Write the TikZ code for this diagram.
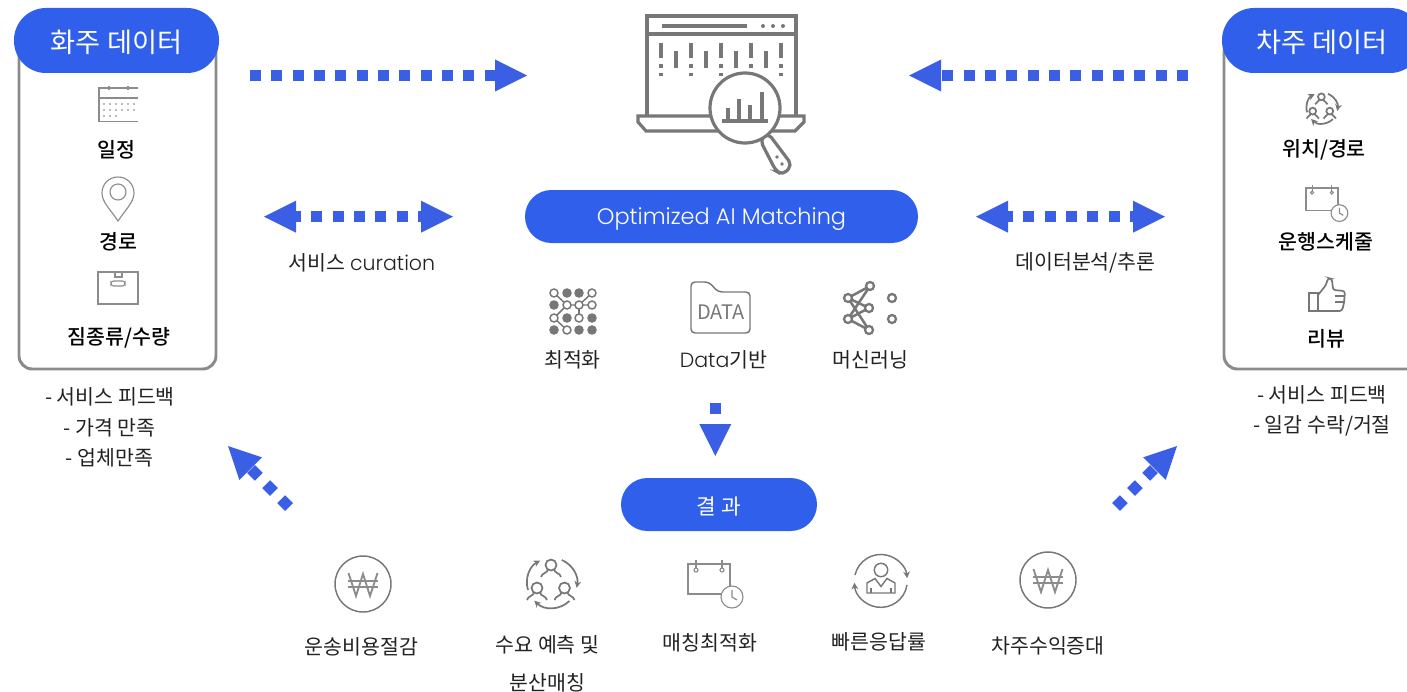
\documentclass[tikz,border=0pt]{standalone}
\usepackage{fontspec}
\setmainfont{Noto Sans CJK KR}
\newfontfamily\latinfont{Poppins Light}
\newfontfamily\mediumfont{Noto Sans CJK KR Medium}
\usetikzlibrary{arrows.meta}
\definecolor{pillblue}{HTML}{2F5FEB}
\definecolor{flowblue}{HTML}{3A5FE5}
\definecolor{icongray}{HTML}{777777}
\definecolor{thingray}{HTML}{8C8C8C}
\definecolor{boxgray}{HTML}{8A8A8A}
\definecolor{labelink}{HTML}{222222}
\tikzset{
	pill/.style={fill=pillblue, text=white, rounded corners=#1, inner sep=0pt, text depth=0pt},
	titlelabel/.style={font=\fontsize{20.4}{24}\selectfont, text=white, text height=18pt},
	itemlabel/.style={font=\mediumfont\fontsize{15.4}{18}\selectfont, text=black},
	notelabel/.style={font=\fontsize{15.4}{18}\selectfont, text=labelink, inner sep=0pt},
	databox/.style={draw=boxgray, line width=2.2pt, rounded corners=10pt, inner sep=0pt},
	flowline/.style={draw=flowblue, line width=8.25pt, dash pattern=on 8.25pt off 7.75pt, -{Triangle[length=24pt,width=24pt,line width=0pt]}},
	flowboth/.style={draw=flowblue, line width=8.25pt, dash pattern=on 8.25pt off 7.75pt, dash phase=4.5pt, {Triangle[length=24pt,width=24pt,line width=0pt]}-{Triangle[length=24pt,width=24pt,line width=0pt]}},
	iconline/.style={draw=icongray, line width=1.1pt},
	thinline/.style={draw=thingray, line width=0.85pt},
	pics/wonicon/.style={code={
		\draw[iconline] (0,0) circle (28);
		\draw[thinline, line width=1.4pt] (-14.5,-11) -- (-7,12) -- (0,-10) -- (7,12) -- (14.5,-11);
		\draw[thinline] (-15,-3) -- (15,-3);
		\draw[thinline] (-15,3) -- (15,3);
	}},
	pics/clockcal/.style={code={
		\draw[thinline] (33,30) -- (0,30) -- (0,0) -- (42,0) -- (42,22);
		\draw[thinline] (8,-4) -- (8,4);
		\draw[thinline] (34,-4) -- (34,4);
		\draw[thinline] (8,6) circle (2);
		\draw[thinline] (34,6) circle (2);
		\draw[thinline] (44,33) circle (11);
		\draw[thinline] (44,26) -- (44,33) -- (49,36);
	}},
	pics/peoplering/.style={code={
		\foreach \hx/\hy in {-1/-18, -15/5, 12.5/5}{
			\draw[iconline, line width=1.3pt] (\hx,\hy) circle (5.5);
			\draw[iconline, line width=1.3pt] (\hx-10,\hy+12) .. controls (\hx-9,\hy+8) and (\hx-4,\hy+8) .. (\hx-3,\hy+5);
			\draw[iconline, line width=1.3pt] (\hx+10,\hy+12) .. controls (\hx+9,\hy+8) and (\hx+4,\hy+8) .. (\hx+3,\hy+5);
		}
		\draw[iconline, line width=1.3pt, -{Stealth[length=5pt,width=5pt]}] (-24,7) arc (163:242:25);
		\draw[iconline, line width=1.3pt, -{Stealth[length=5pt,width=5pt]}] (9.8,-23) arc (293:371:25);
		\draw[iconline, line width=1.3pt, -{Stealth[length=5pt,width=5pt]}] (17.4,18) arc (46:135:25);
	}},
}

\begin{document}
\begin{tikzpicture}[x=0.75pt, y=-0.75pt]
	\useasboundingbox (0,0) rectangle (1407,692);
	\clip (0,0) rectangle (1407,692);

	\node[databox, minimum width=147.75pt, minimum height=246.75pt] (shipperBox) at (117.5,204.5) {};
	\node[pill=24pt, minimum width=153.75pt, minimum height=48.75pt, titlelabel] (shipperTitle) at (116.5,40.5) {화주 데이터};
	\node[databox, minimum width=147.75pt, minimum height=246.75pt] (driverBox) at (1322.5,204.5) {};
	\node[pill=24pt, minimum width=150pt, minimum height=48.75pt, titlelabel] (driverTitle) at (1322,40.5) {차주 데이터};

	\node[pill=19.8pt, minimum width=294.75pt, minimum height=39.75pt, text height=11.8pt, font=\latinfont\fontsize{16.8}{20}\selectfont] (matchTitle) at (721.5,216.5) {Optimized AI Matching};
	\node[pill=19.8pt, minimum width=147pt, minimum height=39.75pt, text height=14.8pt, font=\fontsize{16}{18}\selectfont] (resultTitle) at (719,504.5) {결 과};

	% left column
	\draw[thinline] (138,88) -- (99,88) -- (99,121.5) -- (138,121.5);
	\draw[thinline] (99,98) -- (138,98);
	\draw[thinline] (109,86) -- (109,90);
	\draw[thinline] (128,86) -- (128,90);
	\foreach \dx in {104,110,...,134}{
		\fill[icongray] (\dx,104) circle (0.9);
		\fill[icongray] (\dx,110) circle (0.9);
	}
	\foreach \dx in {104,110,...,118}{
		\fill[icongray] (\dx,116) circle (0.9);
	}
	\node[itemlabel] (scheduleLabel) at (116,150) {일정};
	\draw[thinline] (118,221) .. controls (110,209) and (102,202) .. (102,193) .. controls (102,184) and (109,177) .. (118,177) .. controls (127,177) and (134,184) .. (134,193) .. controls (134,202) and (126,209) .. (118,221) -- cycle;
	\draw[thinline] (118,192) circle (8);
	\node[itemlabel] (routeLabel) at (118,241.5) {경로};
	\draw[thinline] (98,272) rectangle (138,304);
	\draw[thinline] (115,272) rectangle (122,277);
	\draw[thinline, rounded corners=2pt] (111,281) rectangle (125,286);
	\node[itemlabel] (cargoLabel) at (119,338) {짐종류/수량};

	\node[notelabel] (noteFeedback) at (110,397) {- 서비스 피드백};
	\node[notelabel] (notePrice) at (109.5,428) {- 가격 만족};
	\node[notelabel] (noteCompany) at (109.5,458) {- 업체만족};

	% right column
	\pic[scale=0.62] at (1322,108) {peoplering};
	\node[itemlabel] (locationLabel) at (1324,150) {위치/경로};
	\pic[scale=0.76] at (1306,188) {clockcal};
	\node[itemlabel] (timetableLabel) at (1326,241.5) {운행스케줄};
	\draw[iconline, line width=1.3pt] (1309,293) rectangle (1318,311);
	\draw[iconline, line width=1.3pt, rounded corners=2pt] (1318,295) -- (1326,285) -- (1328,278) -- (1332,279) -- (1333,290) -- (1345,291) -- (1344,303) -- (1342,311) -- (1318,311);
	\draw[iconline] (1335,296) -- (1345,296);
	\draw[iconline] (1335,302) -- (1344,302);
	\node[itemlabel] (reviewLabel) at (1326,339) {리뷰};

	\node[notelabel] (noteDriverFeedback) at (1322,395) {- 서비스 피드백};
	\node[notelabel] (noteAccept) at (1322,426) {- 일감 수락/거절};

	% center icon
	\draw[icongray, line width=2.4pt] (647,117) -- (647,16) -- (796,16) -- (796,117);
	\draw[icongray, line width=2.4pt] (647,34) -- (796,34);
	\draw[icongray, line width=2.4pt] (662,26) -- (747,26);
	\foreach \dx in {763,773,783}{
		\fill[icongray] (\dx,26) circle (2);
	}
	\foreach \dx in {661,691,721,751,781}{
		\draw[icongray, line width=2.4pt] (\dx,43) -- (\dx,58);
		\draw[icongray, line width=2.4pt] (\dx,64) -- (\dx,68);
		\draw[icongray, line width=2.4pt] (\dx,73) -- (\dx,76);
	}
	\foreach \dx in {676,706,736,766}{
		\draw[icongray, line width=2.4pt] (\dx,51) -- (\dx,68);
	}
	\draw[icongray, line width=2.4pt, fill=white] (638,116) -- (804,116) -- (804,122) -- (795,131) -- (646,131) -- (638,122) -- cycle;
	\draw[icongray, line width=2.4pt, fill=white, rounded corners=4pt] (760,140) -- (768,133) -- (792,165) -- (783,175) -- (776,171) -- cycle;
	\draw[icongray, line width=2.4pt, fill=white] (745,108) circle (35);
	\foreach \dx/\dy in {728/108, 739/99, 750/105, 762/92}{
		\draw[icongray, line width=2.4pt] (\dx,121) -- (\dx,\dy);
	}
	\draw[icongray, line width=2.4pt] (722,121) -- (768,121);
	\fill[icongray] (777,157) circle (1.8);
	\fill[icongray] (782,164) circle (1.8);

	% method icons
	\draw[iconline] (554,293) -- (567,305) -- (592,305);
	\draw[iconline] (579,305) -- (592,293);
	\draw[iconline] (579,305) -- (579,318);
	\draw[iconline] (567,305) -- (554,318) -- (567,330);
	\foreach \dy/\gridA/\gridB/\gridC/\gridD in {293/white/icongray/icongray/white, 305/icongray/white/white/white, 318/white/icongray/white/icongray, 330/icongray/white/icongray/icongray}{
		\draw[iconline, fill=\gridA] (554,\dy) circle (4);
		\draw[iconline, fill=\gridB] (567,\dy) circle (4);
		\draw[iconline, fill=\gridC] (579,\dy) circle (4);
		\draw[iconline, fill=\gridD] (592,\dy) circle (4);
	}
	\node[notelabel] (optimizeLabel) at (572.5,360) {최적화};

	\draw[iconline, rounded corners=3pt] (691,333) -- (691,282) -- (709,282) -- (718,292) -- (750,292) -- (750,333) -- cycle;
	\node[font=\fontsize{15}{16}\selectfont, text=icongray, inner sep=0pt] (folderLabel) at (721,312) {DATA};
	\node[notelabel] (dataLabel) at (723.5,360) {{\latinfont Data}기반};

	\foreach \ax/\ay/\bx/\by in {870/286/848/298, 870/286/848/319, 848/298/869/308, 848/298/869/330, 848/319/869/308, 848/319/869/330}{
		\draw[icongray, line width=1.9pt] (\ax,\ay) -- (\bx,\by);
	}
	\foreach \dx/\dy in {870/286, 848/298, 869/308, 848/319, 869/330, 892/298, 892/319}{
		\draw[icongray, line width=1.7pt, fill=white] (\dx,\dy) circle (4);
	}
	\node[notelabel] (learningLabel) at (870.5,360) {머신러닝};

	% outcome icons
	\pic at (363,584) {wonicon};
	\node[notelabel] (costLabel) at (361.5,647) {운송비용절감};
	\pic at (552,583) {peoplering};
	\node[notelabel] (demandLabel) at (547.5,645) {수요 예측 및};
	\node[notelabel] (splitLabel) at (547.5,683) {분산매칭};
	\pic at (688,564) {clockcal};
	\node[notelabel] (matchingLabel) at (710,643) {매칭최적화};
	\draw[iconline, -{Stealth[length=5pt,width=5pt]}] (855,575) arc (193:354:26.5);
	\draw[iconline, -{Stealth[length=5pt,width=5pt]}] (907,585) arc (9:176:26.5);
	\draw[iconline] (881,570) circle (6.7);
	\draw[iconline] (867,593) -- (867,583) -- (875,578.5) -- (881,586.5) -- (887,578.5) -- (895,583) -- (895,593) -- cycle;
	\draw[iconline] (871,588) -- (871,593);
	\draw[iconline] (891,588) -- (891,593);
	\node[notelabel] (responseLabel) at (879,642) {빠른응답률};
	\pic at (1048,580) {wonicon};
	\node[notelabel] (incomeLabel) at (1048,646) {차주수익증대};

	% connectors
	\node[notelabel] (curationLabel) at (362,263) {서비스 {\latinfont curation}};
	\node[notelabel] (analysisLabel) at (1085.5,263) {데이터분석/추론};

	\coordinate (shipperOut) at (250,75.5);
	\coordinate (matchInLeft) at (527,75.5);
	\coordinate (driverOut) at (1188,75.5);
	\coordinate (matchInRight) at (909,75.5);
	\coordinate (curationLeft) at (264,216.7);
	\coordinate (curationRight) at (453,216.7);
	\coordinate (analysisLeft) at (976,216.7);
	\coordinate (analysisRight) at (1165,216.7);
	\coordinate (methodOut) at (715.3,403);
	\coordinate (resultIn) at (715.3,456);
	\coordinate (costOut) at (289,507);
	\coordinate (shipperIn) at (228,446);
	\coordinate (incomeOut) at (1116,507);
	\coordinate (driverIn) at (1177,446);

	\draw[flowline] (shipperOut) -- (matchInLeft);
	\draw[flowline] (driverOut) -- (matchInRight);
	\draw[flowboth] (curationLeft) -- (curationRight);
	\draw[flowboth] (analysisLeft) -- (analysisRight);
	\draw[flowline] (methodOut) -- (resultIn);
	\draw[flowline] (costOut) -- (shipperIn);
	\draw[flowline] (incomeOut) -- (driverIn);
\end{tikzpicture}
\end{document}
